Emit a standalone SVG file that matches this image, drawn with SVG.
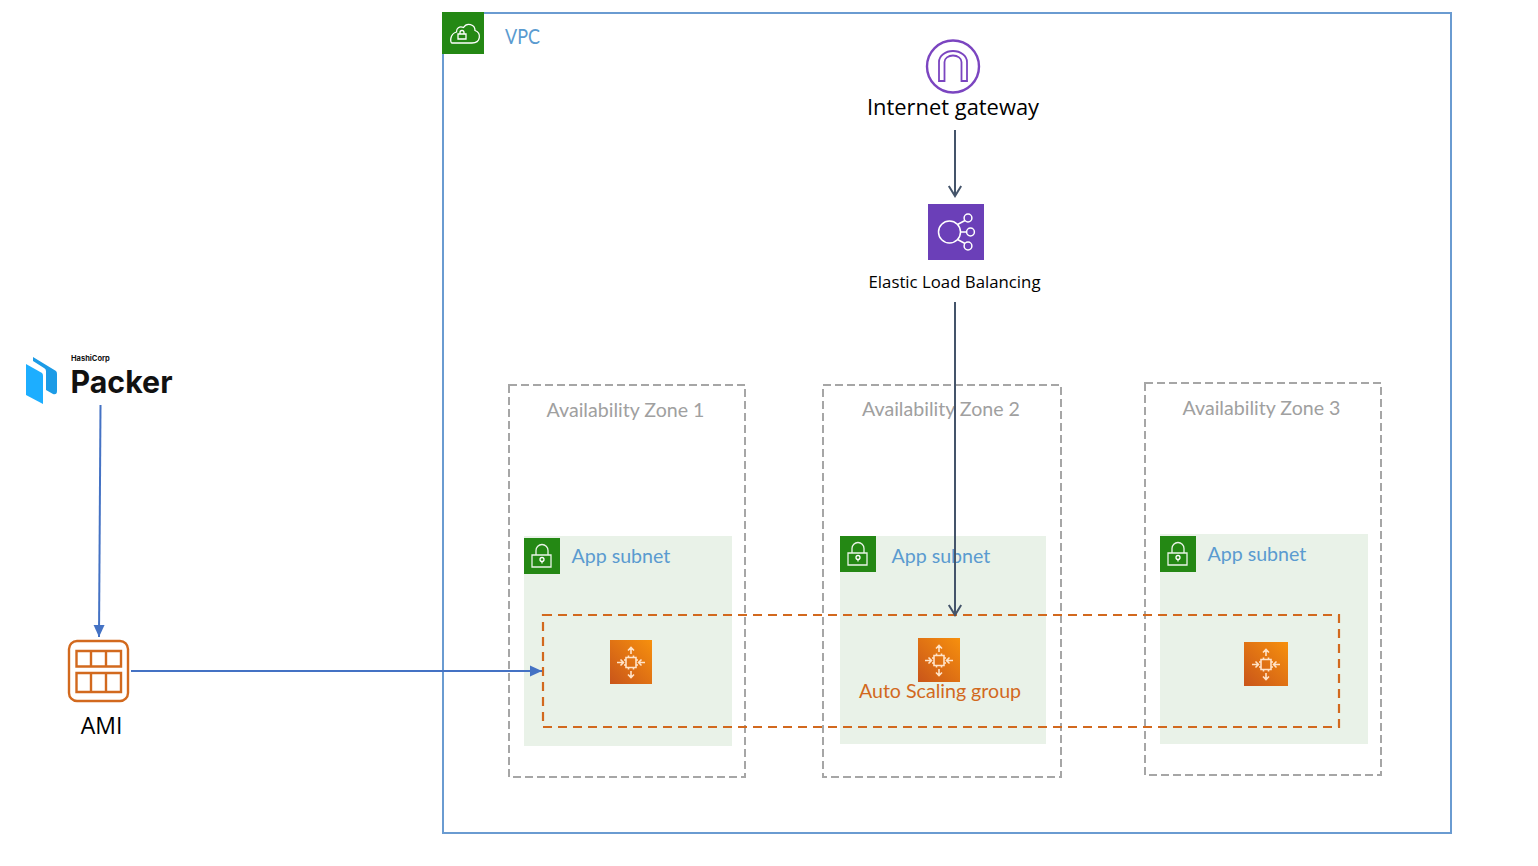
<svg xmlns="http://www.w3.org/2000/svg" width="1538" height="866" viewBox="0 0 1538 866">
<style>
text{font-family:Lato,"Liberation Sans",sans-serif}
.az{fill:none;stroke:#a6a6a6;stroke-width:2;stroke-dasharray:8 4}
.azt{font-size:19.6px;fill:#a0a0a0;text-anchor:middle}
.sub{fill:#e9f2e8}
.grn{fill:#248814}
.subt{font-size:19.6px;fill:#5a9bd0}
.w{fill:none;stroke:#fff;stroke-width:1.3}
.ow{fill:none;stroke:#ffe3c8;stroke-width:1.6}
.lab{fill:#000;text-anchor:middle}
.conn{fill:none;stroke-width:2}
</style>
<defs>
<linearGradient id="og" x1="0" y1="1" x2="1" y2="0"><stop offset="0" stop-color="#c9551a"/><stop offset="1" stop-color="#f7900d"/></linearGradient>
<marker id="ab" markerUnits="userSpaceOnUse" markerWidth="13" markerHeight="13" refX="12" refY="6" orient="auto"><path d="M0 0.500L12 6L0 11.500z" fill="#4472c4"/></marker>
<marker id="ao" markerUnits="userSpaceOnUse" markerWidth="16" markerHeight="16" refX="12" refY="7" orient="auto"><path d="M2 0.800L12 7L2 13.200" fill="none" stroke="#44546a" stroke-width="2"/></marker>
<g id="lock"><rect width="36" height="36" class="grn"/><path class="w" d="M8 17H27V29H8zM12 17V12.500a6 6 0 0 1 12 0V17M18 25.500v-2.500" opacity=".9"/><circle class="w" cx="18" cy="21.500" r="2"/></g>
<g id="as"><path class="ow" d="M16 17.500h10v10h-10zM14 20h2M14 25h2M26 20h2M26 25h2M18.500 15.500v2M23.500 15.500v2M18.500 27.500v2M23.500 27.500v2M7 22.500h6.500M10.500 19.500l3 3l-3 3M35 22.500h-6.500M31.500 19.500l-3 3l3 3M21 14V7.500M18 10.500l3-3l3 3M21 31v6.500M18 34.500l3 3l3-3"/></g>
</defs>
<rect width="1538" height="866" fill="#fff"/>
<g id="vpc">
<rect x="443" y="13" width="1008" height="820" fill="none" stroke="#6a9bd1" stroke-width="2"/>
<rect x="442" y="12" width="42" height="42" class="grn"/>
<path d="M452 43h20c9 0 9.500-10 3-12.500c0-6-8-8.500-11.500-3c-4-2-7.500 1-7 4.500c-7 2-6.500 11-4.500 11z" fill="none" stroke="#fff" stroke-width="1.300"/>
<path d="M458 34h8v5h-8zM460 34v-1.500a2 2 0 0 1 4 0V34" fill="none" stroke="#fff" stroke-width="1.300"/>
<text x="505" y="44" font-size="20.500" fill="#5a9bd0" textLength="35" lengthAdjust="spacingAndGlyphs">VPC</text>
</g>
<g id="az1"><rect x="509" y="385" width="236" height="392" class="az"/><text x="625.500" y="416.500" class="azt">Availability Zone 1</text></g>
<g id="az2"><rect x="823" y="385" width="238" height="392" class="az"/><text x="941" y="415.500" class="azt">Availability Zone 2</text></g>
<g id="az3"><rect x="1145" y="383" width="236" height="392" class="az"/><text x="1261.500" y="414.500" class="azt">Availability Zone 3</text></g>
<g id="subnet1"><rect x="524" y="536" width="208" height="210" class="sub"/><use href="#lock" x="524" y="538"/><text x="571.500" y="562.500" class="subt">App subnet</text></g>
<g id="subnet2"><rect x="840" y="536" width="206" height="208" class="sub"/><use href="#lock" x="840" y="536"/><text x="891.500" y="562.500" class="subt">App subnet</text></g>
<g id="subnet3"><rect x="1160" y="534" width="208" height="210" class="sub"/><use href="#lock" x="1160" y="536"/><text x="1207.500" y="560.500" class="subt">App subnet</text></g>
<g id="asg"><rect x="543" y="615" width="796" height="112" fill="none" stroke="#d2691e" stroke-width="2.200" stroke-dasharray="9 6"/>
<text x="940" y="697.500" font-size="19.600" fill="#d2691e" text-anchor="middle">Auto Scaling group</text></g>
<g id="inst1"><rect x="610" y="640" width="42" height="44" fill="url(#og)"/><use href="#as" x="610" y="640"/></g>
<g id="inst2"><rect x="918" y="638" width="42" height="44" fill="url(#og)"/><use href="#as" x="918" y="638"/></g>
<g id="inst3"><rect x="1244" y="642" width="44" height="44" fill="url(#og)"/><use href="#as" x="1245" y="642"/></g>
<g id="igw">
<circle cx="953" cy="66.500" r="26" fill="none" stroke="#7b45c0" stroke-width="2.400"/>
<path d="M939 81V62a14 11 0 0 1 28 0V81h-5.500V62a8.500 6.500 0 0 0-17 0V81z" fill="none" stroke="#7b45c0" stroke-width="1.800"/>
<text x="953" y="115" class="lab" font-size="21.900" style="font-family:'Open Sans','Noto Sans',sans-serif">Internet gateway</text>
</g>
<g id="elb">
<rect x="928" y="204" width="56" height="56" fill="#6b3fb8"/>
<g fill="none" stroke="#fff" stroke-width="1.500"><circle cx="949.500" cy="232" r="11"/><circle cx="968" cy="218" r="3.900"/><circle cx="970.500" cy="232" r="3.900"/><circle cx="968" cy="246" r="3.900"/><path d="M957.500 224.500L965 220.500M960.500 232h6M957.500 239.500L965 243.500"/></g>
<text x="954.500" y="288" class="lab" font-size="16.800" style="font-family:'Open Sans','Noto Sans',sans-serif">Elastic Load Balancing</text>
</g>
<g id="packer">
<path d="M33 357L56 371Q57 372 57 374V391Q57 395 53 394L46 390V371Q46 369 44 368L33 361z" fill="#1c9be6"/>
<path d="M26 364L42 373Q43 374 43 376V404L26 395z" fill="#1daeff"/>
<text x="71" y="360.500" font-size="7.500" font-weight="700" fill="#111" style="font-family:Inter,'Liberation Sans',sans-serif">HashiCorp</text>
<text x="70.500" y="392.500" font-size="31" font-weight="700" fill="#111" style="font-family:Inter,'Liberation Sans',sans-serif" textLength="102" lengthAdjust="spacingAndGlyphs">Packer</text>
</g>
<g id="ami">
<rect x="69" y="641" width="59" height="60" rx="8" fill="none" stroke="#d2691e" stroke-width="2.400"/>
<path d="M76.500 651h44.500v15.500h-44.500zM91 651v15.500M106 651v15.500M76.500 673h44.500v19h-44.500zM91 673v19M106 673v19" fill="none" stroke="#d2691e" stroke-width="2.400"/>
<text x="101.500" y="734" class="lab" font-size="23" style="font-family:'Open Sans','Noto Sans',sans-serif">AMI</text>
</g>
<g id="connectors">
<path class="conn" stroke="#44546a" d="M955 130V196" marker-end="url(#ao)"/>
<path class="conn" stroke="#44546a" d="M955 302V615" marker-end="url(#ao)"/>
<path class="conn" stroke="#4472c4" d="M100.500 405L99 637" marker-end="url(#ab)"/>
<path class="conn" stroke="#4472c4" d="M131 671H542" marker-end="url(#ab)"/>
</g>
</svg>
